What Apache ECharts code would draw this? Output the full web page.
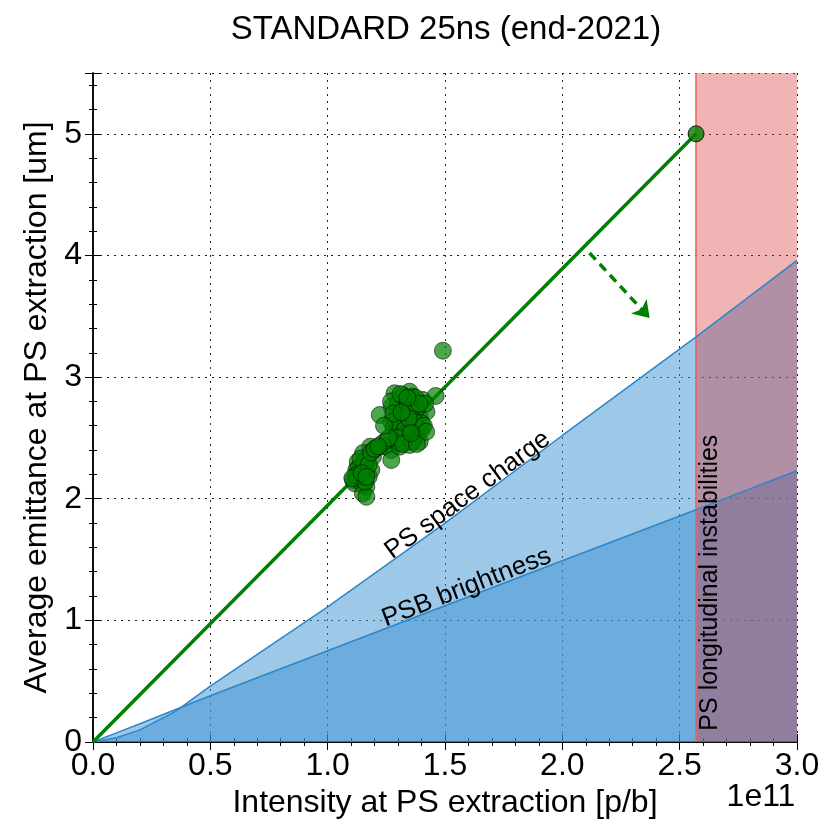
<!DOCTYPE html>
<html><head><meta charset="utf-8">
<script src="https://cdn.jsdelivr.net/npm/echarts@6/dist/echarts.min.js"></script>
<style>html,body{margin:0;padding:0;background:#fff}#c{width:838px;height:819px}</style>
</head><body><div id="c"></div>
<script>
// ---- data ----
const title = "STANDARD 25ns (end-2021)";
const xName = "Intensity at PS extraction [p/b]";
const yName = "Average emittance at PS extraction [um]";
const xTicks = [0, 0.5, 1.0, 1.5, 2.0, 2.5, 3.0];
const yTicks = [0, 1, 2, 3, 4, 5];

// limit curves (x in 1e11 p/b, y in um)
const curveX = [0, 0.1, 0.2, 0.35, 0.5, 1.0, 1.5, 2.0, 2.57, 3.0];
const spaceCharge = [0, 0.035, 0.1, 0.25, 0.46, 1.11, 1.80, 2.52, 3.33, 3.96];
const psbBrightness = [0, 0.075, 0.15, 0.265, 0.38, 0.75, 1.12, 1.49, 1.91, 2.23];

// target line and target point
const targetLineX = [0, 2.57];
const targetLineY = [0, 5.0];
const targetPoint = [2.57, 5.0];

// longitudinal instability limit
const longLimit = 2.57;
const xMax = 3.0;

// arrow (start, end)
const arrowStart = [2.116, 4.02];
const arrowEnd = [2.372, 3.486];

// measured points
const measX = [1.285,1.349,1.363,1.406,1.332,1.272,1.222,1.298,1.349,1.392,1.421,1.271,1.314,1.363,1.399,1.293,1.335,1.378,1.293,1.349,1.392,1.243,1.271,1.307,1.271,1.460,1.491,
  1.181,1.151,1.193,1.128,1.170,1.122,1.165,1.186,1.108,1.144,1.115,1.150,1.165,1.150,1.165,
  1.300,1.320,1.340,1.380,1.310,1.360,1.280,1.330,1.370,1.250,1.230,1.210,1.195,1.140,1.135,1.160,1.175,1.125,1.355,1.325,1.400,1.375,1.415,1.305,
  1.270,1.310,1.350,1.290,1.330,1.370,1.410,1.300,1.360,1.320,1.260,1.280,1.390,1.340,1.240,1.420,1.380,1.345,1.315,1.355,
  1.130,1.155,1.120,1.140,1.175,1.105,1.160,1.185,1.200,1.215,1.145,1.165];
const measY = [2.867,2.880,2.839,2.812,2.798,2.757,2.688,2.729,2.705,2.674,2.716,2.633,2.620,2.592,2.565,2.538,2.510,2.510,2.483,2.442,2.469,2.428,2.400,2.428,2.318,2.845,3.217,
  2.428,2.376,2.345,2.304,2.335,2.236,2.236,2.236,2.154,2.168,2.127,2.113,2.099,2.044,2.016,
  2.780,2.850,2.760,2.740,2.680,2.650,2.580,2.560,2.600,2.480,2.450,2.420,2.400,2.260,2.200,2.280,2.180,2.190,2.560,2.660,2.620,2.830,2.780,2.460,
  2.800,2.860,2.720,2.640,2.570,2.630,2.600,2.500,2.470,2.450,2.500,2.700,2.780,2.830,2.600,2.550,2.450,2.660,2.710,2.540,
  2.250,2.300,2.190,2.330,2.280,2.170,2.140,2.380,2.410,2.430,2.210,2.180];

// annotations [x, y, rotationDeg, text]
const annSC = [1.597, 2.03, 36.4, "PS space charge"];
const annPSB = [1.592, 1.27, 21.3, "PSB brightness"];
const annLong = [2.63, 1.31, 90, "PS longitudinal instabilities"];
const offsetText = "1e11";

// ---- chart ----
const chart = echarts.init(document.getElementById('c'), null, {renderer:'canvas'});
const FONT = 'Liberation Sans, Arial, sans-serif';
const FS = 32;
const pair = (xs, ys) => xs.map((x, i) => [x, ys[i]]);

const axisCommon = {
  min: 0,
  axisLine: {show: true, lineStyle: {color: '#000', width: 1.5}},
  axisTick: {show: true, inside: true, length: 8, lineStyle: {color: '#000', width: 1}},
  minorTick: {show: true, splitNumber: 5, length: 4, lineStyle: {color: '#000', width: 1}},
};

const option = {
  backgroundColor: '#fff',
  animation: false,
  title: {text: title, left: 441, top: 8, textAlign: 'center',
    textStyle: {fontFamily: FONT, fontSize: 33, fontWeight: 'normal', color: '#000'}},
  grid: {left: 93, right: 41, top: 73, bottom: 77, show: false, containLabel: false, outerBoundsMode: 'none'},
  xAxis: [
    Object.assign({}, axisCommon, {type: 'value', max: xMax, interval: 0.5, position: 'bottom',
      name: xName, nameLocation: 'middle', nameGap: 43,
      nameTextStyle: {fontFamily: FONT, fontSize: FS, color: '#000'},
      axisLabel: {fontFamily: FONT, fontSize: FS, color: '#000', margin: 8,
        formatter: v => v.toFixed(1)},
      splitLine: {show: true, lineStyle: {color: '#222', type: [2, 5], width: 1}}}),
    Object.assign({}, axisCommon, {type: 'value', max: xMax, interval: 0.5, position: 'top',
      axisLabel: {show: false}, splitLine: {show: false}})
  ],
  yAxis: [
    Object.assign({}, axisCommon, {type: 'value', max: 5.5, interval: 1, position: 'left',
      name: yName, nameLocation: 'middle', nameGap: 34,
      nameTextStyle: {fontFamily: FONT, fontSize: FS, color: '#000'},
      axisLabel: {fontFamily: FONT, fontSize: FS, color: '#000', margin: 11,
        formatter: v => (Number.isInteger(v) ? String(v) : '')},
      splitLine: {show: true, lineStyle: {color: '#222', type: [2, 5], width: 1}}}),
    Object.assign({}, axisCommon, {type: 'value', max: 5.5, interval: 1, position: 'right',
      axisLabel: {show: false}, splitLine: {show: false}})
  ],
  series: [
    {type: 'line', name: 'PS space charge', data: pair(curveX, spaceCharge), symbol: 'none', z: 2,
      lineStyle: {width: 0},
      areaStyle: {color: 'rgba(59,145,209,0.5)', opacity: 1, origin: 'start'}},
    {type: 'line', name: 'PSB brightness', data: pair(curveX, psbBrightness), symbol: 'none', z: 2,
      lineStyle: {width: 0},
      areaStyle: {color: 'rgba(59,145,209,0.5)', opacity: 1, origin: 'start'}},
    {type: 'line', name: 'limit', data: [[longLimit, 0], [xMax, 0]], symbol: 'none', z: 3,
      lineStyle: {width: 0},
      markArea: {silent: true, z: 3, itemStyle: {color: 'rgba(214,39,40,0.35)', opacity: 1},
        data: [[{xAxis: longLimit, yAxis: 0}, {xAxis: xMax, yAxis: 5.5}]]},
      markLine: {silent: true, z: 3, symbol: 'none', label: {show: false},
        lineStyle: {color: '#E8605D', width: 1.5, type: 'solid'},
        data: [{xAxis: longLimit}]}},
    {type: 'line', name: 'PS space charge edge', data: pair(curveX, spaceCharge), symbol: 'none', z: 4,
      lineStyle: {color: '#2C87CA', width: 1.5}},
    {type: 'line', name: 'PSB brightness edge', data: pair(curveX, psbBrightness), symbol: 'none', z: 4,
      lineStyle: {color: '#2C87CA', width: 1.5}},
    {type: 'line', name: 'target', data: pair(targetLineX, targetLineY), symbol: 'none', z: 4,
      lineStyle: {color: '#008000', width: 3.5}},
    {type: 'lines', coordinateSystem: 'cartesian2d', z: 4,
      data: [{coords: [arrowStart, arrowEnd]}],
      symbol: ['none', 'arrow'], symbolSize: 16,
      lineStyle: {color: '#008000', width: 3.5, type: [9, 6], opacity: 1}},
    {type: 'scatter', name: 'measured', data: pair(measX, measY), symbolSize: 17, z: 5,
      itemStyle: {color: 'rgba(0,128,0,0.7)', opacity: 1, borderColor: 'rgba(0,0,0,0.55)', borderWidth: 1}},
    {type: 'scatter', name: 'targetPt', data: [targetPoint], symbolSize: 16, z: 6,
      itemStyle: {color: '#008000', borderColor: '#000', borderWidth: 1}}
  ]
};
chart.setOption(option);

function annText(a, size) {
  const p = chart.convertToPixel({gridIndex: 0}, [a[0], a[1]]);
  return {type: 'text', x: p[0], y: p[1], rotation: a[2] * Math.PI / 180, z: 10,
    style: {text: a[3], fontFamily: FONT, fontSize: size, fill: '#000', align: 'center', verticalAlign: 'middle'}};
}
const op = chart.convertToPixel({gridIndex: 0}, [xMax, 0]);
chart.setOption({graphic: [
  annText(annSC, 26), annText(annPSB, 26), annText(annLong, 25),
  {type: 'text', x: op[0] - 36, y: op[1] + 55, z: 10,
    style: {text: offsetText, fontFamily: FONT, fontSize: FS, fill: '#000', align: 'center', verticalAlign: 'middle'}}
]});
</script></body></html>
